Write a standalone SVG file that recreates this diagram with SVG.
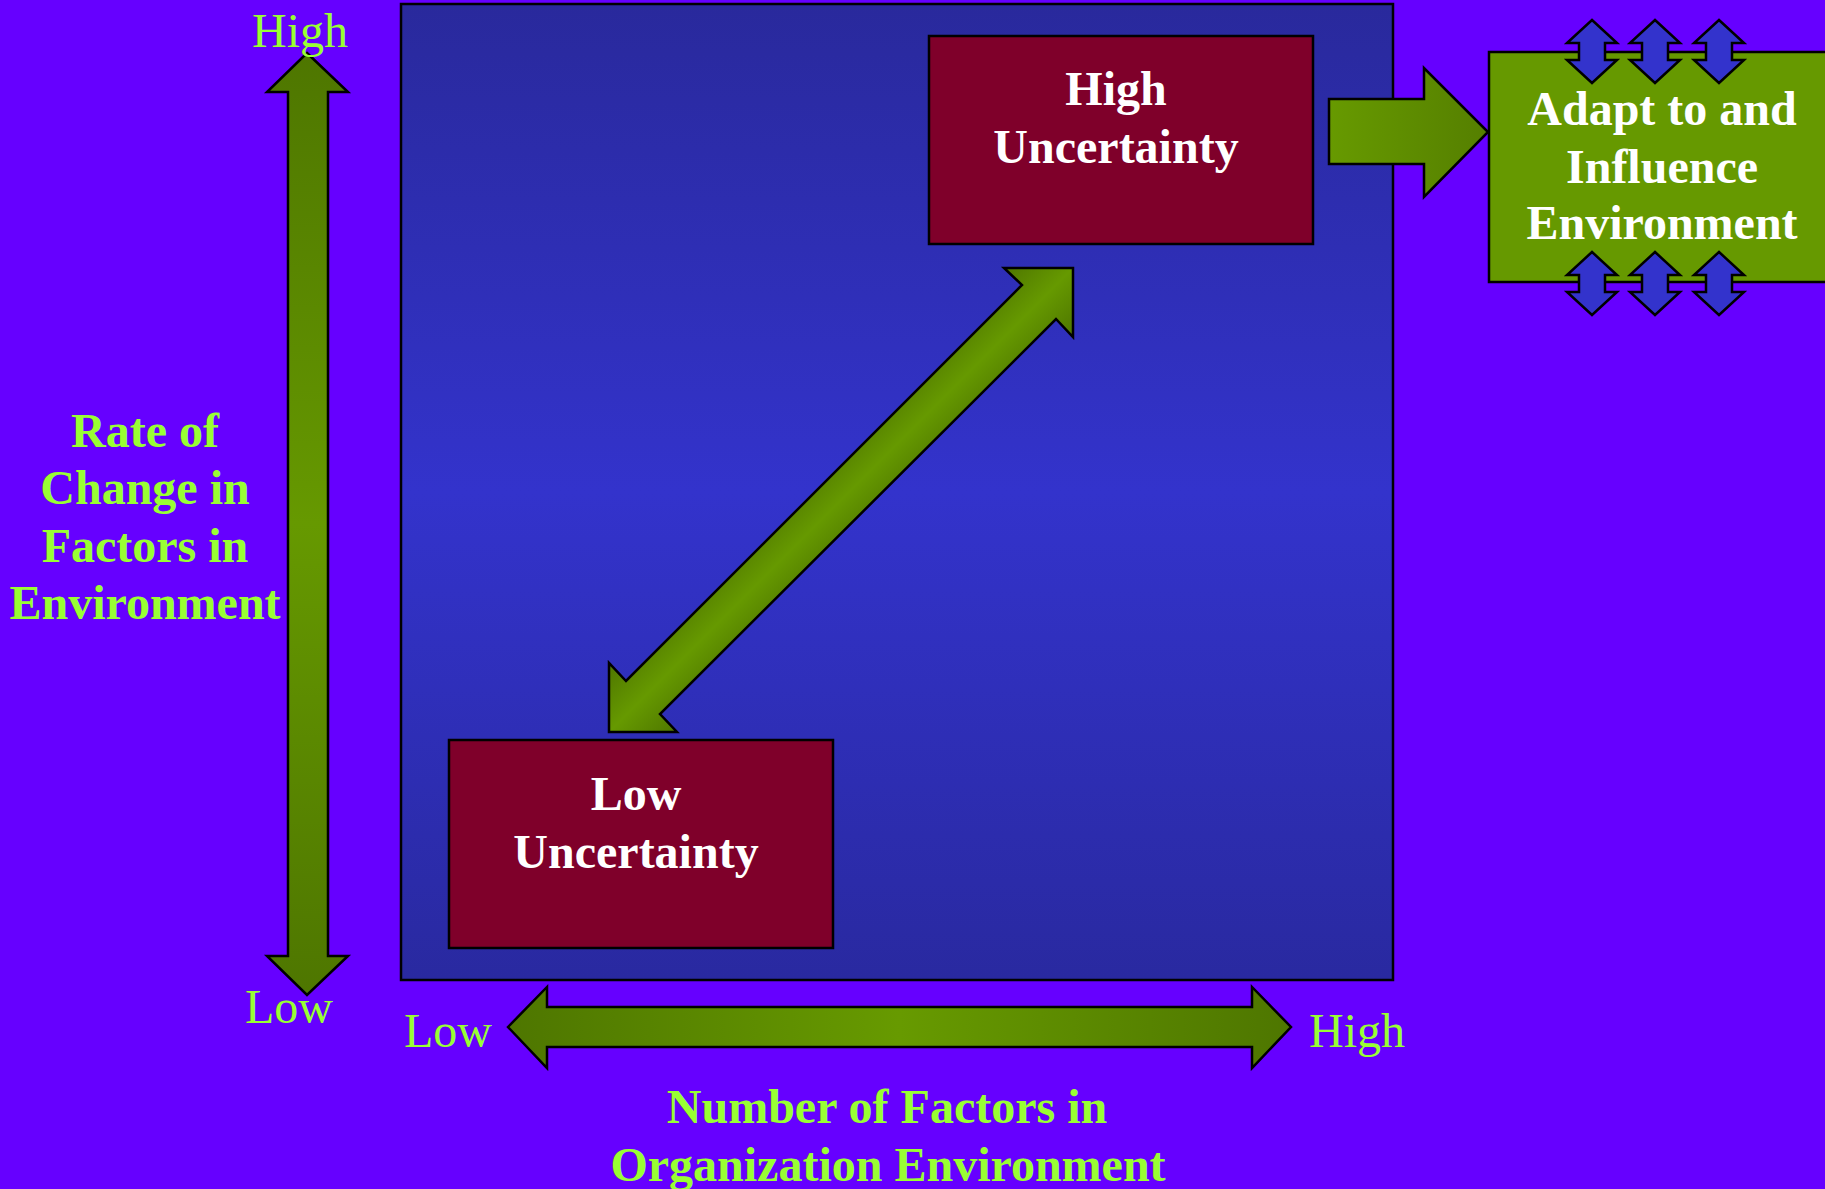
<svg xmlns="http://www.w3.org/2000/svg" xmlns:xlink="http://www.w3.org/1999/xlink" width="1825" height="1189" viewBox="0 0 1825 1189">
<style>
.lbl{font-family:"Liberation Serif","Times New Roman",serif;fill:#99ff33;font-size:48px;text-anchor:middle}
.b{font-weight:bold}
.wt{font-family:"Liberation Serif","Times New Roman",serif;fill:#ffffff;font-size:48px;font-weight:bold;text-anchor:middle}
.st{stroke:#000;stroke-width:2.5;stroke-linejoin:miter}
</style>
<defs>
<linearGradient id="sq" x1="0" y1="0" x2="0" y2="1">
<stop offset="0" stop-color="#29299c"/>
<stop offset="0.5" stop-color="#3333cc"/>
<stop offset="1" stop-color="#2929a0"/>
</linearGradient>
<linearGradient id="vg" gradientUnits="userSpaceOnUse" x1="0" y1="53" x2="0" y2="995">
<stop offset="0" stop-color="#4e7600"/>
<stop offset="0.5" stop-color="#669900"/>
<stop offset="1" stop-color="#4e7600"/>
</linearGradient>
<linearGradient id="hg" gradientUnits="userSpaceOnUse" x1="508" y1="0" x2="1291" y2="0">
<stop offset="0" stop-color="#4e7600"/>
<stop offset="0.5" stop-color="#679a00"/>
<stop offset="1" stop-color="#4e7600"/>
</linearGradient>
<linearGradient id="dg" gradientUnits="userSpaceOnUse" x1="636" y1="636" x2="705" y2="705">
<stop offset="0" stop-color="#4e7600"/>
<stop offset="0.5" stop-color="#669900"/>
<stop offset="1" stop-color="#4e7600"/>
</linearGradient>
<linearGradient id="rg" gradientUnits="userSpaceOnUse" x1="1329" y1="0" x2="1488" y2="0">
<stop offset="0" stop-color="#679a00"/>
<stop offset="1" stop-color="#557f00"/>
</linearGradient>
<path id="dbl" d="M0,0 L25,23 L13,23 L13,40 L25,40 L0,63 L-25,40 L-13,40 L-13,23 L-25,23 Z" fill="#3333cc" stroke="#000" stroke-width="2.5"/>
</defs>
<rect x="0" y="0" width="1825" height="1189" fill="#6600ff"/>

<g id="matrix">
<rect x="401" y="4" width="992" height="976" fill="url(#sq)" class="st"/>
</g>

<g id="high-uncertainty">
<rect x="929" y="36" width="384" height="208" fill="#7f002a" class="st"/>
<text class="wt" x="1116" y="105">High</text>
<text class="wt" x="1116" y="163">Uncertainty</text>
</g>

<g id="low-uncertainty">
<rect x="449" y="740" width="384" height="208" fill="#7f002a" class="st"/>
<text class="wt" x="636" y="810">Low</text>
<text class="wt" x="636" y="868">Uncertainty</text>
</g>

<g id="adapt">
<rect x="1489" y="52" width="345" height="230" fill="#669900" class="st"/>
<text class="wt" x="1662" y="125">Adapt to and</text>
<text class="wt" x="1662" y="183">Influence</text>
<text class="wt" x="1662" y="239">Environment</text>
</g>

<g id="connectors">
<polygon id="vertical-axis" points="307,53 348,92 328,92 328,956 348,956 307,995 267,956 288,956 288,92 267,92" fill="url(#vg)" class="st"/>
<polygon id="horizontal-axis" points="508,1027 547,987 547,1007 1252,1007 1252,987 1291,1027 1252,1068 1252,1047 547,1047 547,1068" fill="url(#hg)" class="st"/>
<polygon id="diagonal" points="1073,268 1004,268 1022,285 626,681 609,663 609,732 677,732 660,714 1056,319 1073,337" fill="url(#dg)" class="st"/>
<polygon id="to-adapt" points="1329,99 1424,99 1424,68 1488,132 1424,197 1424,164 1329,164" fill="url(#rg)" class="st"/>
<use xlink:href="#dbl" x="1592" y="20"/>
<use xlink:href="#dbl" x="1655" y="20"/>
<use xlink:href="#dbl" x="1719" y="20"/>
<use xlink:href="#dbl" x="1592" y="252"/>
<use xlink:href="#dbl" x="1655" y="252"/>
<use xlink:href="#dbl" x="1719" y="252"/>
</g>

<g id="labels">
<text class="lbl" x="300" y="47">High</text>
<text class="lbl" x="289" y="1023">Low</text>
<text class="lbl" x="448" y="1047">Low</text>
<text class="lbl" x="1357" y="1047">High</text>
<text class="lbl b" x="145" y="447">Rate of</text>
<text class="lbl b" x="145" y="504">Change in</text>
<text class="lbl b" x="145" y="562">Factors in</text>
<text class="lbl b" x="145" y="619">Environment</text>
<text class="lbl b" x="887" y="1123">Number of Factors in</text>
<text class="lbl b" x="888" y="1181">Organization Environment</text>
</g>
</svg>
